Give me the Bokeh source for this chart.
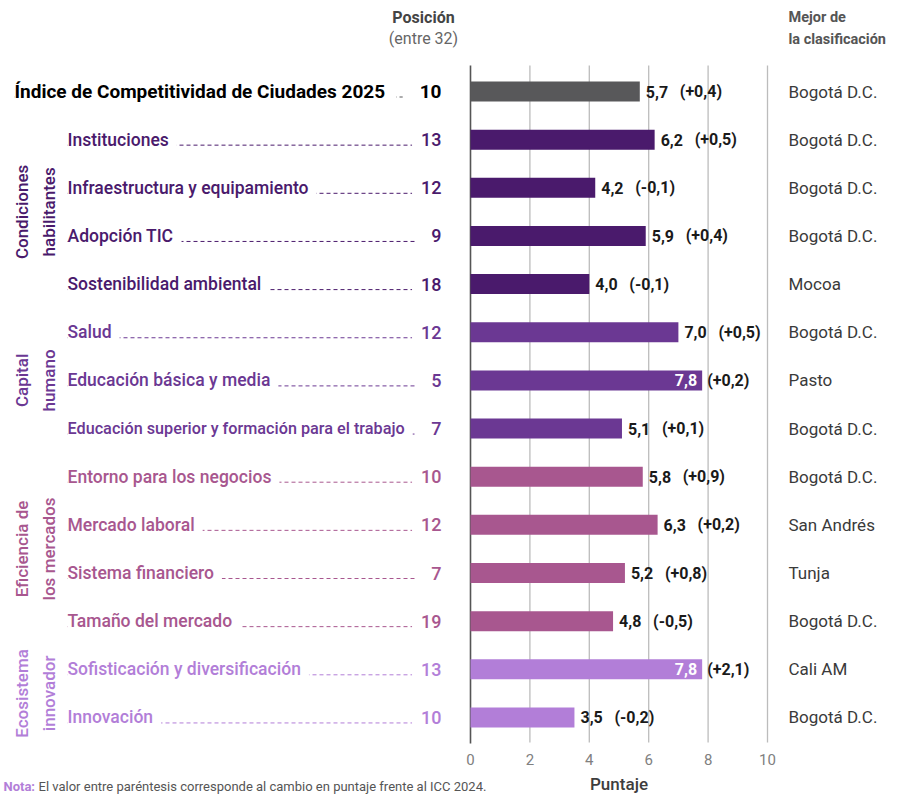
import math
from bokeh.plotting import figure
from bokeh.models import ColumnDataSource, LinearAxis, FixedTicker, Range1d
from bokeh.core.properties import value
from bokeh.embed import file_html
from bokeh.resources import INLINE

# ---------------- data ----------------
labels = [
    "Índice de Competitividad de Ciudades 2025",
    "Instituciones",
    "Infraestructura y equipamiento",
    "Adopción TIC",
    "Sostenibilidad ambiental",
    "Salud",
    "Educación básica y media",
    "Educación superior y formación para el trabajo",
    "Entorno para los negocios",
    "Mercado laboral",
    "Sistema financiero",
    "Tamaño del mercado",
    "Sofisticación y diversificación",
    "Innovación",
]
positions = [10, 13, 12, 9, 18, 12, 5, 7, 10, 12, 7, 19, 13, 10]
scores = [5.7, 6.2, 4.2, 5.9, 4.0, 7.0, 7.8, 5.1, 5.8, 6.3, 5.2, 4.8, 7.8, 3.5]
changes = [0.4, 0.5, -0.1, 0.4, -0.1, 0.5, 0.2, 0.1, 0.9, 0.2, 0.8, -0.5, 2.1, -0.2]
best = [
    "Bogotá D.C.", "Bogotá D.C.", "Bogotá D.C.", "Bogotá D.C.", "Mocoa",
    "Bogotá D.C.", "Pasto", "Bogotá D.C.", "Bogotá D.C.", "San Andrés",
    "Tunja", "Bogotá D.C.", "Cali AM", "Bogotá D.C.",
]
groups = ["ICC", "CH", "CH", "CH", "CH", "KH", "KH", "KH",
          "EM", "EM", "EM", "EM", "EI", "EI"]
group_lines = {
    "CH": ["Condiciones", "habilitantes"],
    "KH": ["Capital", "humano"],
    "EM": ["Eficiencia de", "los mercados"],
    "EI": ["Ecosistema", "innovador"],
}
group_colors = {"ICC": "#58585a", "CH": "#4a1a6c", "KH": "#6b3893",
                "EM": "#a8578f", "EI": "#b27ed8"}
ticks = [0, 2, 4, 6, 8, 10]

# ---------------- layout helpers ----------------
W, H = 899, 794
PX = 29.7     # pixels per score unit
PY = 48.15    # pixels per row
n = len(labels)
X0 = -470 / PX
X1 = X0 + W / PX
Y1 = (n - 1) + 91 / PY
Y0 = Y1 - H / PY


def dx(img_x):
    return X0 + img_x / PX


def dy(img_y):
    return Y1 - img_y / PY


FONT_S = "Roboto"
MED_S = "'Roboto Medium', Roboto"
FONT = value(FONT_S)
MED = value(MED_S)

ys = [n - 1 - i for i in range(n)]
colors = [group_colors[g] for g in groups]


def fmt(v):
    return f"{v:.1f}".replace(".", ",")


def fmt_change(v):
    s = f"{v:+.1f}".replace(".", ",")
    return f"({s})"


inside = [s >= 7.5 for s in scores]
src = ColumnDataSource(dict(
    y=ys, score=scores, color=colors, label=labels,
    pos=[str(v) for v in positions], best=best,
    val=[fmt(s) for s in scores], chg=[fmt_change(c) for c in changes],
    val_off=[-5 if ins else 6 for ins in inside],
    val_align=["right" if ins else "left" for ins in inside],
    val_color=["white" if ins else "#1a1a1a" for ins in inside],
    chg_off=[5 if ins else 40 for ins in inside],
    lx=[dx(14) if g == "ICC" else dx(67) for g in groups],
    ly=[y - 5.5 / PY for y in ys],
))

p = figure(width=W, height=H, x_range=Range1d(X0, X1), y_range=Range1d(Y0, Y1),
           output_backend="svg", toolbar_location=None, min_border=0,
           outline_line_color=None, x_axis_type=None, y_axis_type=None)
p.background_fill_color = "white"
p.border_fill_color = "white"

# grid lines and zero line
p.segment(x0=ticks[1:], y0=dy(65), x1=ticks[1:], y1=dy(742),
          line_color="#bcbcbc", line_width=1.3)
p.segment(x0=[0], y0=dy(65), x1=[0], y1=dy(743), line_color="#555555", line_width=1.6)

# x axis (placed at fixed location inside the frame)
ax = LinearAxis(fixed_location=dy(742), bounds=(0, 10), ticker=FixedTicker(ticks=ticks),
                axis_label="Puntaje")
ax.axis_line_color = None
ax.major_tick_line_color = None
ax.minor_tick_line_color = None
ax.major_label_text_font = FONT_S
ax.major_label_text_font_size = "15px"
ax.major_label_text_color = "#808080"
ax.major_label_standoff = 5
ax.axis_label_text_font = MED_S
ax.axis_label_text_font_style = "normal"
ax.axis_label_text_font_size = "17px"
ax.axis_label_text_color = "#3d3d3d"
ax.axis_label_standoff = 6
p.add_layout(ax, "below")

# leader lines
p.segment(x0="lx", y0="ly", x1=dx(414), y1="ly", line_dash="4 3",
          line_color="color", line_width=1, source=src)

# bars
p.hbar(y="y", left=0, right="score", height=20 / PY, fill_color="color",
       line_color=None, source=src)

# labels (title row and the rest)
title_view = ColumnDataSource(dict(x=[src.data["lx"][0]], y=[ys[0]], t=[labels[0]],
                                   pos=[str(positions[0])]))
rest = ColumnDataSource(dict(x=src.data["lx"][1:], y=ys[1:], t=labels[1:],
                             c=colors[1:], pos=[str(v) for v in positions[1:]],
                             fs=["16.2px" if len(t) > 40 else "17.5px" for t in labels[1:]]))
pad_r = dict(left=0, right=8, top=2, bottom=2)
pad_l = dict(left=9, right=0, top=2, bottom=2)
p.text(x="x", y="y", text="t", source=title_view, text_font=FONT,
       text_font_style="bold", text_font_size="19px", text_color="#000000",
       text_baseline="middle", text_align="left",
       background_fill_color="white", padding=dict(left=0, right=11, top=2, bottom=2))
p.text(x="x", y="y", text="t", source=rest, text_font=MED,
       text_font_size="fs", text_color="c", text_baseline="middle",
       text_align="left", background_fill_color="white", padding=pad_r)

# positions
p.text(x=dx(441), y="y", text="pos", source=title_view, text_font=FONT,
       text_font_style="bold", text_font_size="19px", text_color="#000000",
       text_baseline="middle", text_align="right",
       background_fill_color="white", padding=dict(left=17, right=0, top=2, bottom=2))
p.text(x=dx(441), y="y", text="pos", source=rest, text_font=MED,
       text_font_size="18px", text_color="c", text_baseline="middle",
       text_align="right", background_fill_color="white", padding=pad_l)

# value labels
p.text(x="score", y="y", text="val", source=src, x_offset="val_off",
       text_align="val_align", text_color="val_color", text_font=FONT,
       text_font_style="bold", text_font_size="16px", text_baseline="middle")
p.text(x="score", y="y", text="chg", source=src, x_offset="chg_off",
       text_align="left", text_color="#1a1a1a", text_font=FONT,
       text_font_style="bold", text_font_size="16px", text_baseline="middle")

# best city column
p.text(x=dx(788), y="y", text="best", source=src, text_font=FONT,
       text_font_size="17px", text_color="#3a3a3a", text_baseline="middle",
       text_align="left")

# group labels (rotated)
for g, lines in group_lines.items():
    rows = [ys[i] for i in range(n) if groups[i] == g]
    mid = sum(rows) / len(rows)
    p.text(x=[dx(21), dx(48)], y=[mid, mid], text=lines, angle=math.pi / 2,
           text_font=MED, text_font_size="17px", text_color=group_colors[g],
           text_align="center", text_baseline="middle")

# headers
p.text(x=[dx(423)], y=[dy(17)], text=["Posición"], text_font=FONT,
       text_font_style="bold", text_font_size="16px", text_color="#444444",
       text_align="center", text_baseline="middle")
p.text(x=[dx(423)], y=[dy(38)], text=["(entre 32)"], text_font=FONT,
       text_font_size="16px", text_color="#666666",
       text_align="center", text_baseline="middle")
p.text(x=[dx(788), dx(788)], y=[dy(17), dy(39)], text=["Mejor de", "la clasificación"],
       text_font=FONT, text_font_style="bold", text_font_size="14.5px",
       text_color="#555555", text_align="left", text_baseline="middle")

# note
p.text(x=[dx(3)], y=[dy(786)], text=["Nota:"], text_font=FONT, text_font_style="bold",
       text_font_size="13px", text_color="#b27ed8", text_align="left",
       text_baseline="middle")
p.text(x=[dx(38)], y=[dy(786)],
       text=["El valor entre paréntesis corresponde al cambio en puntaje frente al ICC 2024."],
       text_font=FONT, text_font_size="13px", text_color="#555555",
       text_align="left", text_baseline="middle")

open("out.html", "w").write(file_html(p, INLINE))
